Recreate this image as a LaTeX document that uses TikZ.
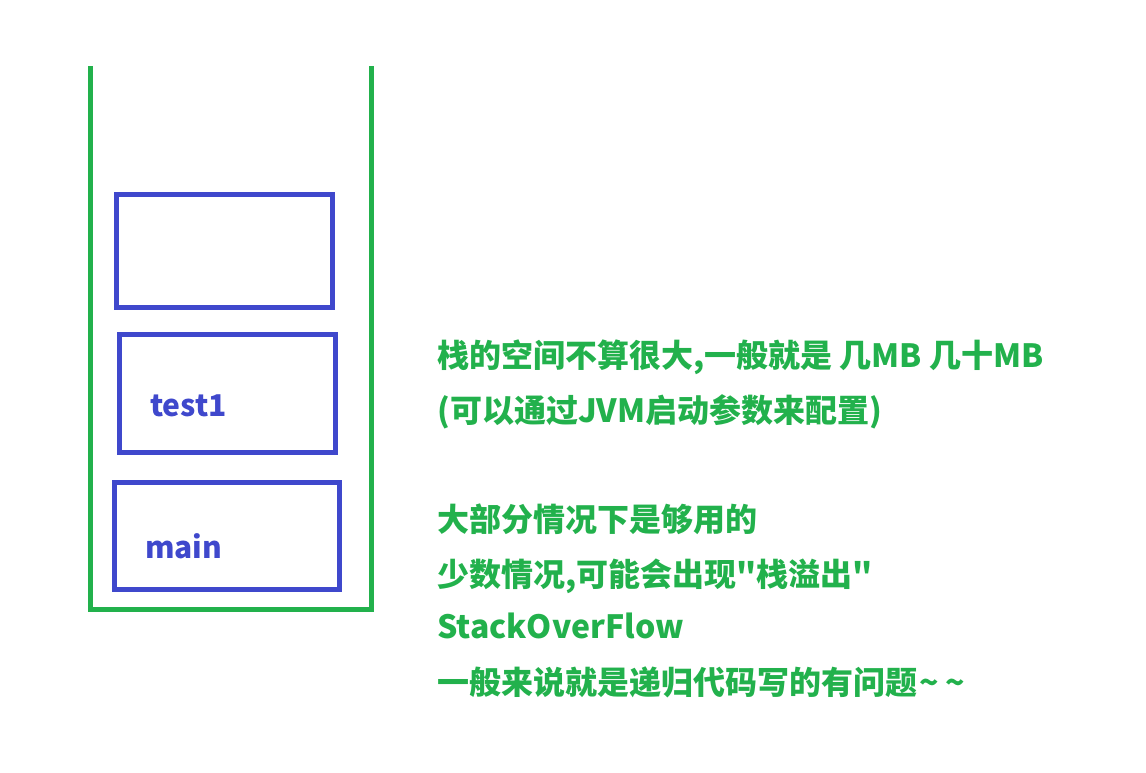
\documentclass[tikz,border=0pt]{standalone}
\usepackage{fontspec}
\usepackage{xcolor}
\usepackage{tikz}
\usetikzlibrary{positioning}
\setmainfont{Noto Sans CJK SC}[Ligatures=TeXOff]
\definecolor{stackgreen}{HTML}{22b14c}
\definecolor{frameblue}{HTML}{3f48cc}

\begin{document}
\begin{tikzpicture}[
  x=1pt, y=-1pt,
  stk/.style={draw=stackgreen, line width=5pt},
  frm/.style={draw=frameblue, line width=5pt, inner sep=0pt},
  lbl/.style={text=frameblue, font=\fontsize{30}{34}\selectfont\bfseries, inner sep=0pt, anchor=base west},
  note/.style={text=stackgreen, font=\fontsize{32}{36}\selectfont\bfseries, inner sep=0pt, anchor=base west}
]
\useasboundingbox (0,0) rectangle (1146,772);
% the stack, open at the top
\coordinate (stl) at (90.5,66);
\coordinate (str) at (371.5,66);
\draw[stk] (stl) -- (stl |- 0,609.5) -- (str |- 0,609.5) -- (str);
% frames
\node[frm, minimum width=216pt, minimum height=113pt] (top) at (224.5,251) {};
\node[frm, minimum width=216pt, minimum height=118pt] (test) at (227.5,393.5) {};
\node[frm, minimum width=225pt, minimum height=107pt] (main) at (227,536) {};
\node[lbl] (testlbl) at (150,416) {test1};
\node[lbl] (mainlbl) at (145,558) {main};
% notes on the right
\node[note] (n1) at (437,367) {栈的空间不算很大,一般就是 几MB 几十MB};
\node[note] (n2) at (437,422) {(可以通过JVM启动参数来配置)};
\node[note] (n3) at (437,531) {大部分情况下是够用的};
\node[note] (n4) at (437,586) {少数情况,可能会出现"栈溢出"};
\node[note] (n5) at (437,638) {StackOverFlow};
\node[note] (n6) at (437,694) {一般来说就是递归代码写的有问题\hspace{2pt}\textasciitilde\hspace{7pt}\textasciitilde};
\end{tikzpicture}
\end{document}
